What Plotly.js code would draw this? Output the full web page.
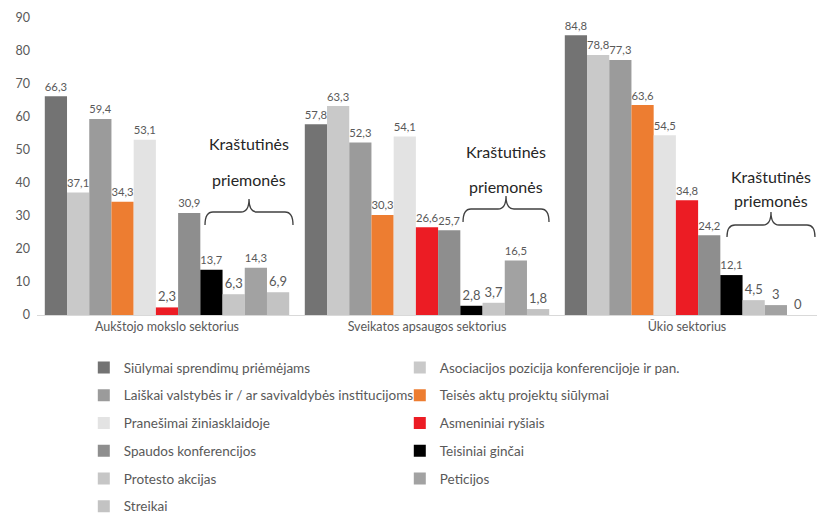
<!DOCTYPE html>
<html>
<head>
<meta charset="utf-8">
<script src="https://cdn.plot.ly/plotly-3.0.1.min.js"></script>
<style>html,body{margin:0;padding:0;background:#fff;}#chart{width:817px;height:516px;}</style>
</head>
<body>
<div id="chart"></div>
<script>
const categories = ["Aukštojo mokslo sektorius", "Sveikatos apsaugos sektorius", "Ūkio sektorius"];
const seriesNames = [
  "Siūlymai sprendimų priėmėjams",
  "Asociacijos pozicija konferencijoje ir pan.",
  "Laiškai valstybės ir / ar savivaldybės institucijoms",
  "Teisės aktų projektų siūlymai",
  "Pranešimai žiniasklaidoje",
  "Asmeniniai ryšiais",
  "Spaudos konferencijos",
  "Teisiniai ginčai",
  "Protesto akcijas",
  "Peticijos",
  "Streikai"
];
const siulymai = [66.3, 57.8, 84.8];
const asociacijos = [37.1, 63.3, 78.8];
const laiskai = [59.4, 52.3, 77.3];
const teisesAktu = [34.3, 30.3, 63.6];
const pranesimai = [53.1, 54.1, 54.5];
const asmeniniai = [2.3, 26.6, 34.8];
const spaudos = [30.9, 25.7, 24.2];
const teisiniai = [13.7, 2.8, 12.1];
const protesto = [6.3, 3.7, 4.5];
const peticijos = [14.3, 16.5, 3];
const streikai = [6.9, 1.8, 0];
const annotationLines = ["Kraštutinės", "priemonės"];

const seriesValues = [siulymai, asociacijos, laiskai, teisesAktu, pranesimai, asmeniniai, spaudos, teisiniai, protesto, peticijos, streikai];
const colors = ["#737373", "#c9c9c9", "#9b9b9b", "#ed7d31", "#e3e3e3", "#ec1c24", "#8e8e8e", "#000000", "#c6c6c6", "#a2a2a2", "#c3c3c3"];

const FONT = "Lato, 'Open Sans', sans-serif";
const traces = seriesValues.map((vals, i) => ({
  type: "bar",
  name: seriesNames[i],
  x: categories,
  y: vals,
  text: vals.map(v => String(v).replace(".", ",")),
  textposition: "outside",
  cliponaxis: false,
  textfont: {family: FONT, size: 13, color: "#595959"},
  marker: {color: colors[i]},
  legendgroup: "g" + i,
  hoverinfo: "x+y+name"
}));

// geometry helpers (pixels -> paper)
const L = 37, T = 18, W = 780, H = 297;
const px = x => (x - L) / W;
const py = y => (T + H - y) / H;
function brace(x0, x1, yb, ym, yt) {
  const xm = (x0 + x1) / 2, r = 8;
  const P = (x, y) => px(x).toFixed(4) + "," + py(y).toFixed(4);
  return "M" + P(x0, yb) + " Q" + P(x0, ym) + " " + P(x0 + r, ym) +
    " L" + P(xm - r, ym) + " Q" + P(xm, ym) + " " + P(xm, yt) +
    " Q" + P(xm, ym) + " " + P(xm + r, ym) +
    " L" + P(x1 - r, ym) + " Q" + P(x1, ym) + " " + P(x1, yb);
}
const braces = [
  {x0: 205, x1: 293, yb: 225, ym: 212, yt: 199, t1: 143, t2: 179},
  {x0: 463, x1: 549, yb: 222, ym: 209, yt: 196, t1: 152, t2: 186},
  {x0: 727, x1: 815, yb: 237, ym: 225, yt: 212, t1: 176, t2: 200}
];
const shapes = braces.map(b => ({
  type: "path", xref: "paper", yref: "paper",
  path: brace(b.x0, b.x1, b.yb, b.ym, b.yt),
  line: {color: "#404040", width: 1.3}
}));
const annotations = [];
braces.forEach(b => {
  const cx = (b.x0 + b.x1) / 2;
  [b.t1, b.t2].forEach((ty, k) => annotations.push({
    xref: "paper", yref: "paper", x: px(cx), y: py(ty),
    text: annotationLines[k], showarrow: false, xanchor: "center", yanchor: "middle",
    font: {family: FONT, size: 16, color: "#262626"}
  }));
});

const layout = {
  width: 817, height: 516,
  margin: {l: L, r: 0, t: T, b: 516 - T - H, pad: 0, autoexpand: false},
  paper_bgcolor: "#ffffff", plot_bgcolor: "#ffffff",
  font: {family: FONT, color: "#595959", size: 12},
  barmode: "group", bargap: 0.06, bargroupgap: 0,
  showlegend: true,
  legend: {
    orientation: "h", x: 0.06, xanchor: "left", y: -0.125, yanchor: "top",
    traceorder: "grouped", tracegroupgap: 7.2, entrywidth: 271,
    font: {family: FONT, size: 13.5, color: "#595959"}
  },
  xaxis: {
    type: "category", showgrid: false, zeroline: false,
    showline: true, linecolor: "#d9d9d9", linewidth: 1,
    ticks: "", tickfont: {family: FONT, size: 12.5, color: "#595959"}
  },
  yaxis: {
    range: [0, 90], dtick: 10, showgrid: false, zeroline: false, showline: false,
    ticks: "", ticklabelstandoff: 6,
    tickfont: {family: FONT, size: 12.5, color: "#595959"}
  },
  shapes: shapes,
  annotations: annotations
};

Plotly.newPlot("chart", traces, layout, {displayModeBar: false, staticPlot: true});
</script>
</body>
</html>
